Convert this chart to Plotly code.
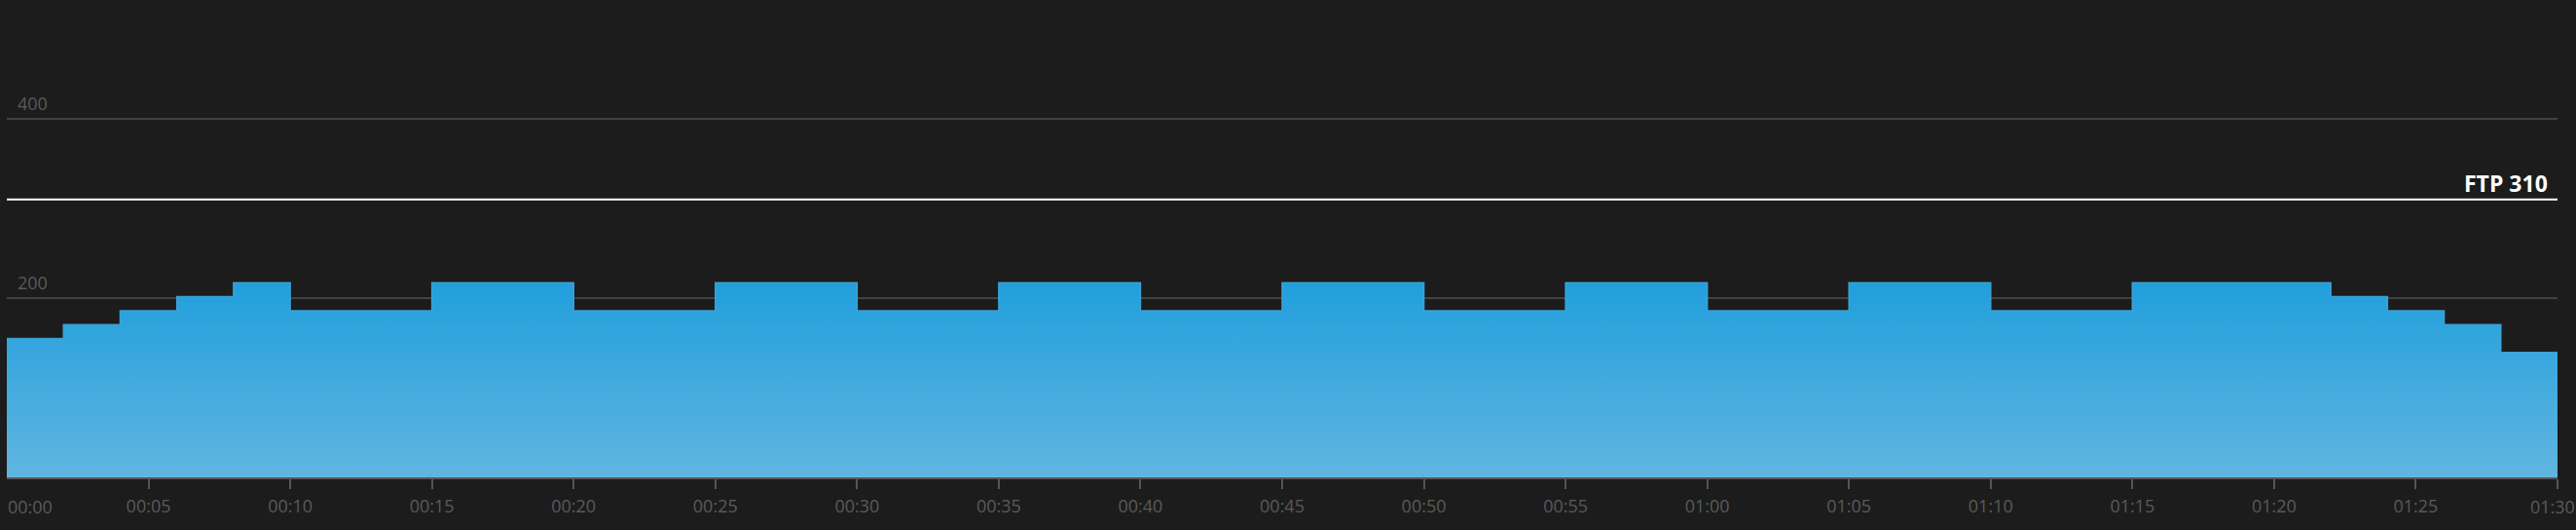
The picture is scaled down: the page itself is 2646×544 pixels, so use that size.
import plotly.graph_objects as go

# Workout steps: start minute of each step and its power (watts)
step_start_min = [0, 2, 4, 6, 8, 10, 15, 20, 25, 30, 35, 40, 45, 50, 55, 60, 65, 70, 75, 82, 84, 86, 88]
step_power = [155, 170.5, 186, 201.5, 217, 186, 217, 186, 217, 186, 217, 186, 217, 186, 217, 186, 217, 186, 217, 201.5, 186, 170.5, 139.5]
end_min = 90

ftp = 310
ftp_label = "FTP 310"

x_tick_vals = [0, 5, 10, 15, 20, 25, 30, 35, 40, 45, 50, 55, 60, 65, 70, 75, 80, 85, 90]
x_tick_text = ["00:00", "00:05", "00:10", "00:15", "00:20", "00:25", "00:30", "00:35", "00:40",
               "00:45", "00:50", "00:55", "01:00", "01:05", "01:10", "01:15", "01:20", "01:25", "01:30"]
y_tick_vals = [200, 400]
y_tick_text = ["200", "400"]

BG = "#1c1c1c"
GRID = "#414141"
AXIS = "#555555"
LABEL = "#5a5a5a"
FONT = "Open Sans"

xs = step_start_min + [end_min]
ys = step_power + [step_power[-1]]

fig = go.Figure()
fig.add_trace(go.Scatter(
    x=xs, y=ys, mode="lines", line_shape="hv",
    line=dict(color="#3aa3d8", width=1.5),
    fill="tozeroy",
    fillgradient=dict(type="vertical",
                      colorscale=[[0, "#60b5e0"], [1, "#219fdc"]]),
    hoverinfo="skip", showlegend=False,
))

fig.add_hline(y=ftp, line=dict(color="#ffffff", width=2), layer="above")
fig.add_annotation(x=1, xref="paper", y=ftp, yref="y", text="<b>" + ftp_label + "</b>",
                   showarrow=False, xanchor="right", yanchor="bottom", xshift=-8, yshift=-1,
                   font=dict(family=FONT, size=23, color="#ffffff"))
# first and last time labels are kept inside the chart width
fig.add_annotation(x=x_tick_vals[0], xref="x", y=0, yref="paper", text=x_tick_text[0],
                   showarrow=False, xanchor="left", yanchor="top", yshift=-16, xshift=-1,
                   font=dict(family=FONT, size=18, color=LABEL))
fig.add_annotation(x=x_tick_vals[-1], xref="x", y=0, yref="paper", text=x_tick_text[-1],
                   showarrow=False, xanchor="center", yanchor="top", yshift=-16, xshift=-5,
                   font=dict(family=FONT, size=18, color=LABEL))

fig.update_layout(
    width=2646, height=544,
    paper_bgcolor=BG, plot_bgcolor=BG,
    margin=dict(l=7, r=19, t=0, b=54),
    showlegend=False,
    xaxis=dict(range=[0, end_min], tickvals=x_tick_vals,
               ticktext=[""] + x_tick_text[1:-1] + [""],
               showgrid=False, zeroline=False,
               showline=True, linecolor=AXIS, linewidth=2,
               ticks="outside", ticklen=10, tickwidth=2, tickcolor=AXIS,
               tickfont=dict(family=FONT, size=18, color=LABEL),
               ticklabelstandoff=2,
               fixedrange=True),
    yaxis=dict(range=[0, 532.6], tickvals=y_tick_vals, ticktext=y_tick_text,
               showgrid=True, gridcolor=GRID, gridwidth=2, zeroline=False,
               ticklabelposition="inside top",
               tickfont=dict(family=FONT, size=18, color=LABEL),
               ticklabelstandoff=8, ticklabelshift=-3,
               fixedrange=True),
)

fig.write_html("out.html", config={"displayModeBar": False},
               post_script="document.body.style.margin='0';document.body.style.background='#1c1c1c';")
